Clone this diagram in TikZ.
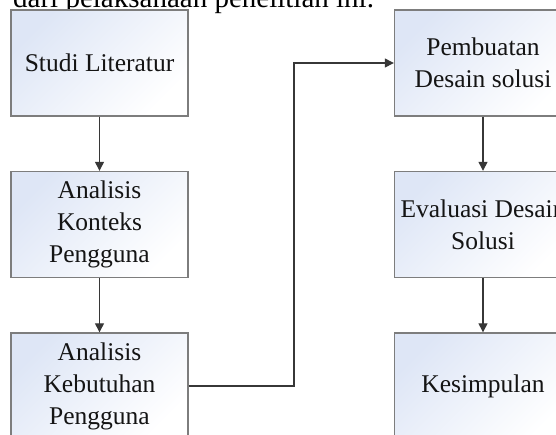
\documentclass[tikz,border=0pt]{standalone}
\usepackage{fontspec}
\setmainfont{Liberation Serif}
\usetikzlibrary{arrows.meta}
\definecolor{boxtop}{RGB}{222,230,246}
\definecolor{boxedge}{RGB}{125,125,125}
\definecolor{linecol}{RGB}{55,55,55}
\definecolor{txt}{RGB}{20,20,20}
\tikzset{
  stepbox/.style={draw=boxedge, line width=1.4pt, top color=boxtop, middle color=boxtop!25!white, bottom color=white, shading angle=45,
    minimum width=177pt, minimum height=106pt, inner sep=0pt, align=center, text=txt,
    font=\fontsize{25.5}{32}\selectfont},
  conn/.style={draw=linecol, line width=1.3pt, -{Triangle[length=9pt,width=9pt]}}
}
\begin{document}
\begin{tikzpicture}[x=1pt,y=-1pt]
\useasboundingbox (0,0) rectangle (556,434);
\clip (0,0) rectangle (556,434);
\node[anchor=base west, inner sep=0pt, text=black, font=\fontsize{29}{34}\selectfont] (top) at (13,7) {dari pelaksanaan penelitian ini.};
\node[stepbox] (a) at (99.5,63) {Studi Literatur};
\node[stepbox] (b) at (99.5,224.5) {Analisis\\Konteks\\Pengguna};
\node[stepbox] (c) at (99.5,386) {Analisis\\Kebutuhan\\Pengguna};
\node[stepbox] (d) at (483,63) {Pembuatan\\Desain solusi};
\node[stepbox] (e) at (483,224.5) {Evaluasi Desain\\Solusi};
\node[stepbox] (f) at (483,386) {Kesimpulan};
\coordinate (k1) at (294,386);
\coordinate (k2) at (294,63);
\draw[conn] (a) -- (b);
\draw[conn] (b) -- (c);
\draw[conn] (d) -- (e);
\draw[conn] (e) -- (f);
\draw[conn] (c.east) -- (k1) -- (k2) -- (d.west);
\end{tikzpicture}
\end{document}
